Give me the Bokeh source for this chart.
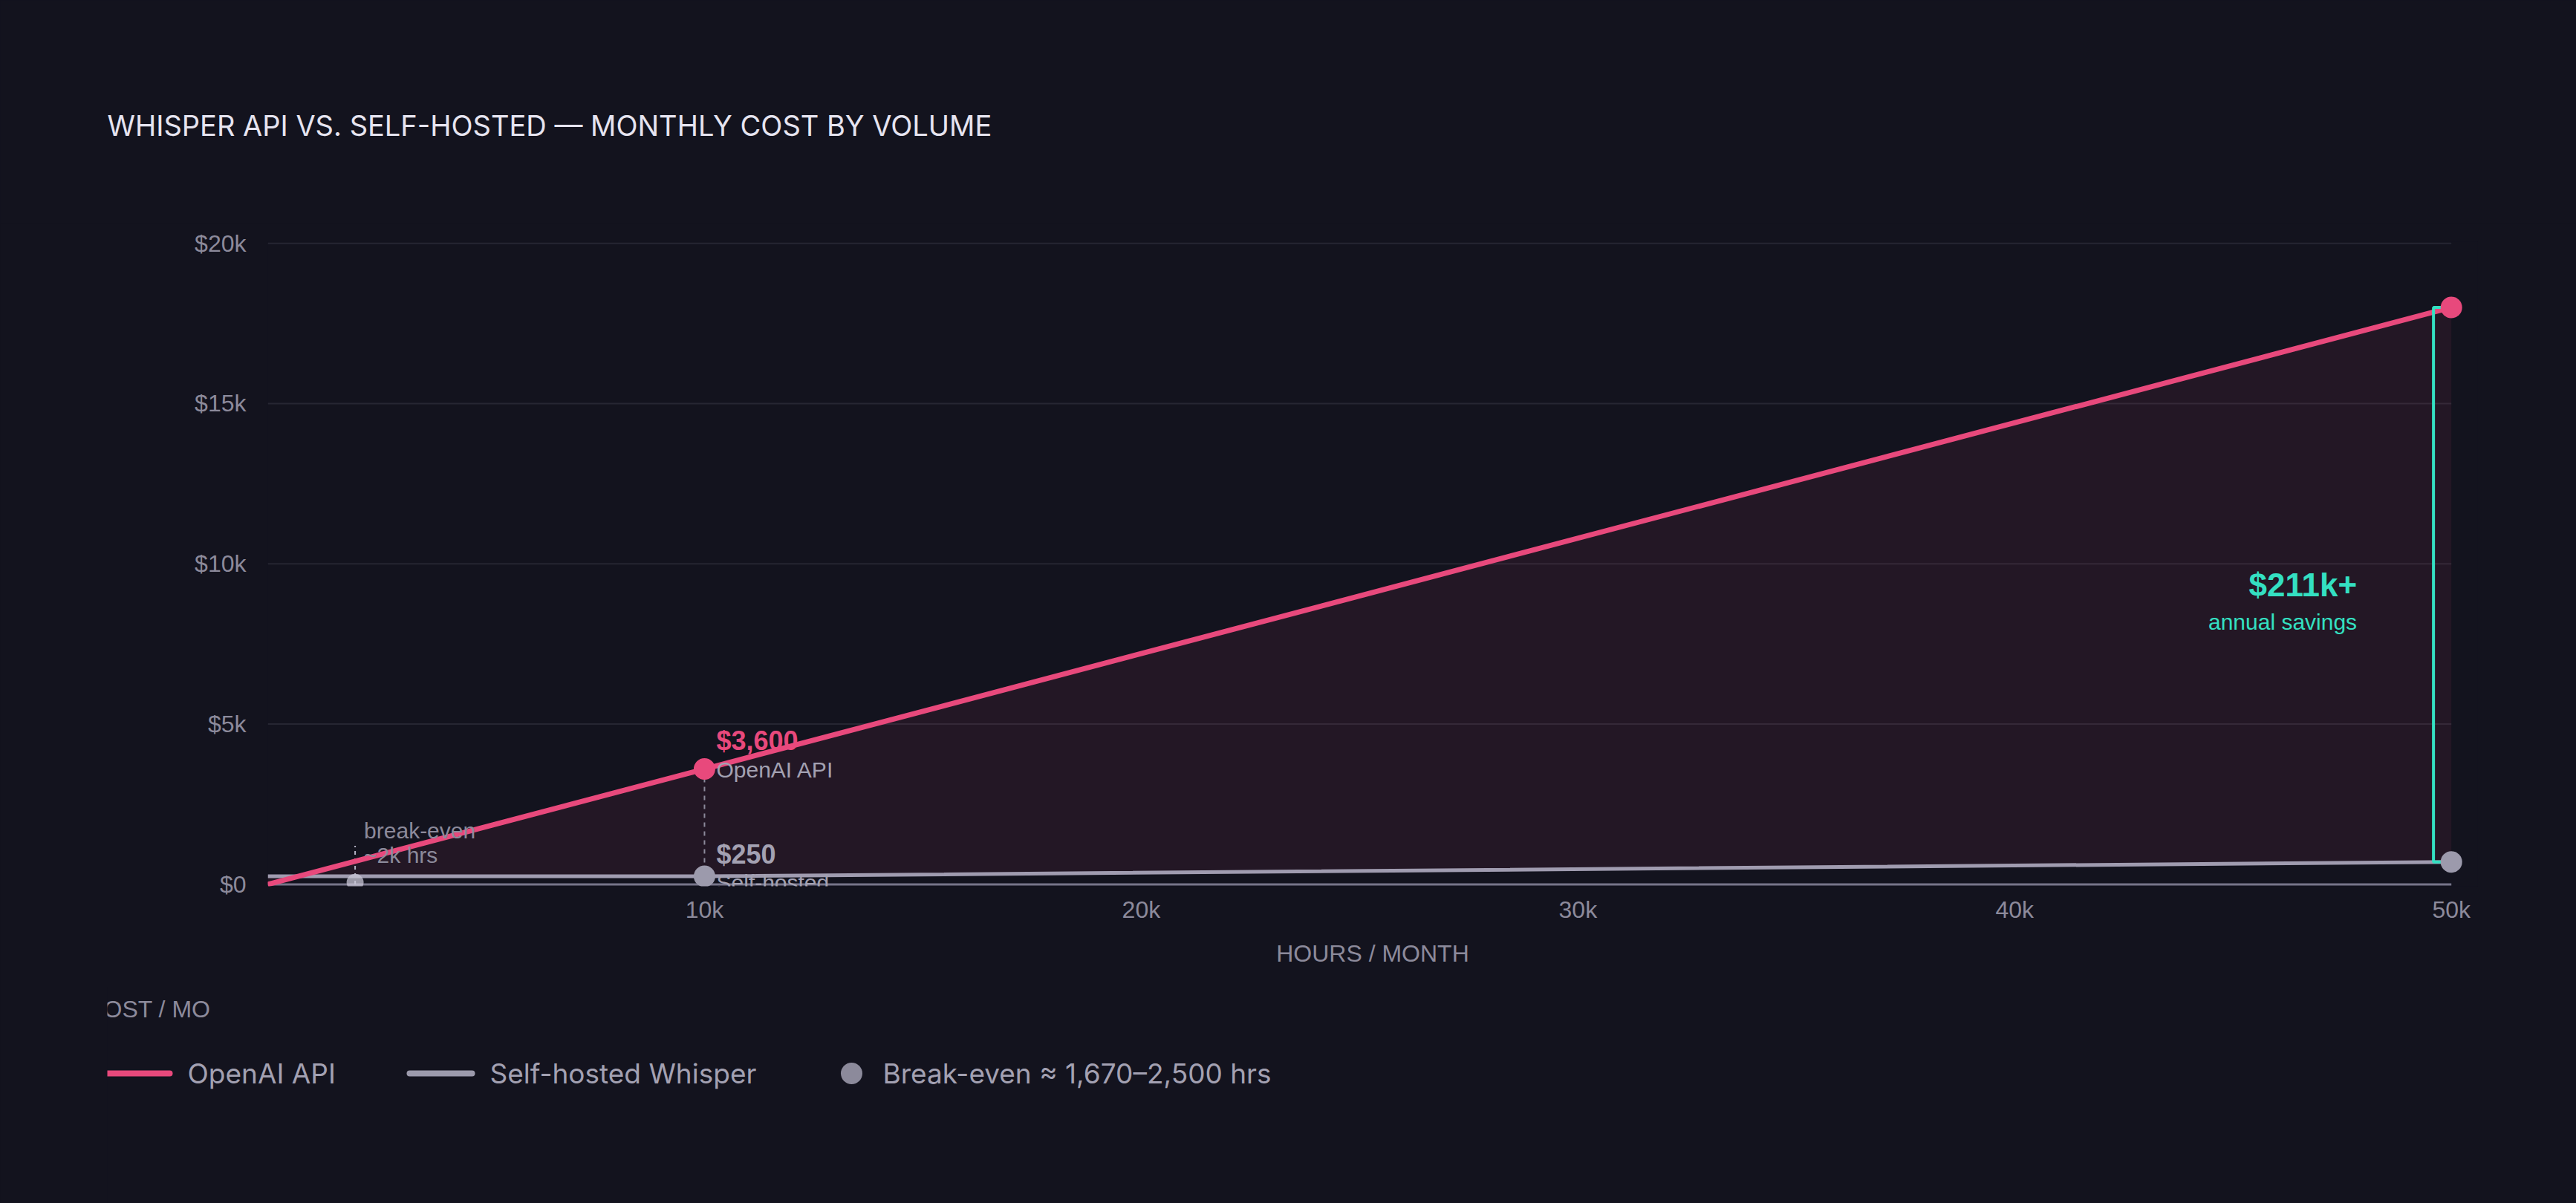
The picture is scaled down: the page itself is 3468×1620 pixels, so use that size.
from bokeh.plotting import figure
from bokeh.models import Range1d, FixedTicker, GlobalInlineStyleSheet
from bokeh.layouts import column
from bokeh.core.properties import value
from bokeh.embed import file_html
from bokeh.resources import INLINE

# data
hours = [0, 10000, 50000]
api_cost = [0, 3600, 18000]
self_cost = [250, 250, 700]
breakeven_hours = 2000
breakeven_cost = 60
breakeven_top = 1200

x_ticks = [10000, 20000, 30000, 40000, 50000]
x_tick_labels = ["10k", "20k", "30k", "40k", "50k"]
y_ticks = [0, 5000, 10000, 15000, 20000]
y_tick_labels = ["$0", "$5k", "$10k", "$15k", "$20k"]

api_label = ["$3,600", "OpenAI API"]
self_label = ["$250", "Self-hosted"]
breakeven_label = ["break-even", "~2k hrs"]
savings_label = ["$211k+", "annual savings"]
legend_names = ["OpenAI API", "Self-hosted Whisper", "Break-even ≈ 1,670–2,500 hrs"]

BG = "#13131e"
PINK = "#e8497c"
GREY = "#a09cb0"
DOT_GREY = "#9c9aac"
TEAL = "#34e0c2"
MUTED = "#8c8a9b"
SOFT = "#a3a1b2"
SANS = value("Liberation Sans")

W = 3468


def blank(height, left=0):
    f = figure(
        width=W, height=height,
        x_range=Range1d(0, W - left), y_range=Range1d(height, 0),
        x_axis_location=None, y_axis_location=None,
        output_backend="svg", toolbar_location=None, frame_align=False,
        min_border_left=left, min_border_right=0, min_border_top=0, min_border_bottom=0,
        background_fill_color=BG, border_fill_color=BG, outline_line_color=None,
    )
    f.grid.visible = False
    return f


# title strip
head = blank(300)
head.text(x=[144], y=[168], text=["WHISPER API VS. SELF-HOSTED — MONTHLY COST BY VOLUME"],
          text_font=value("Inter"), text_font_size="38px", text_color="#e6e4f0",
          text_baseline="middle")

# main chart; x runs a little past 50k so the end markers are not cut off
x_max = hours[-1]
p = figure(
    width=W, height=1030,
    x_range=Range1d(0, x_max + 600), y_range=Range1d(-60, y_ticks[-1] + 50),
    output_backend="svg", toolbar_location=None, frame_align=False,
    min_border_left=360, min_border_right=133, min_border_top=25, min_border_bottom=137,
    background_fill_color=BG, border_fill_color=BG, outline_line_color=None,
)

# grid and baseline stop at 50k like the reference
p.segment(x0=[0] * (len(y_ticks) - 1), y0=y_ticks[1:], x1=[x_max] * (len(y_ticks) - 1),
          y1=y_ticks[1:], line_color="#262632", line_width=2)

p.varea(x=hours, y1=self_cost, y2=api_cost, fill_color=PINK, fill_alpha=0.08)

p.segment(x0=[0], y0=[0], x1=[x_max], y1=[0], line_color="#77758a", line_width=3)

p.segment(x0=[hours[1]], y0=[api_cost[1]], x1=[hours[1]], y1=[self_cost[1]],
          line_color=MUTED, line_width=2, line_dash="6 6")
p.segment(x0=[breakeven_hours], y0=[0], x1=[breakeven_hours], y1=[breakeven_top],
          line_color="#b4b2c4", line_width=2, line_dash="5 5")

p.line(hours, self_cost, line_color=GREY, line_width=5)
p.line(hours, api_cost, line_color=PINK, line_width=7)

# savings bracket at the right edge
xb = x_max - 410
p.line(x=[x_max - 150, xb, xb, x_max - 150],
       y=[api_cost[-1], api_cost[-1], self_cost[-1], self_cost[-1]],
       line_color=TEAL, line_width=4)

p.scatter(x=[breakeven_hours], y=[breakeven_cost], size=23, fill_color="#c8c6d6",
          fill_alpha=0.75, line_color=None)
p.scatter(x=hours[1:], y=api_cost[1:], size=29, fill_color=PINK, line_color=None)
p.scatter(x=hours[1:], y=self_cost[1:], size=29, fill_color=DOT_GREY, line_color=None)

# point labels
p.text(x=[hours[1]], y=[api_cost[1]], text=[api_label[0]], x_offset=16, y_offset=-38,
       text_font=SANS, text_font_size="36px", text_font_style="bold",
       text_color=PINK, text_baseline="middle")
p.text(x=[hours[1]], y=[api_cost[1]], text=[api_label[1]], x_offset=16, y_offset=1,
       text_font=SANS, text_font_size="30px", text_color=SOFT, text_baseline="middle")
p.text(x=[hours[1]], y=[self_cost[1]], text=[self_label[0]], x_offset=16, y_offset=-30,
       text_font=SANS, text_font_size="36px", text_font_style="bold",
       text_color=SOFT, text_baseline="middle")
p.text(x=[hours[1]], y=[self_cost[1]], text=[self_label[1]], x_offset=16, y_offset=8,
       text_font=SANS, text_font_size="30px", text_color=SOFT, text_baseline="middle")
p.text(x=[breakeven_hours] * 2, y=[breakeven_cost] * 2, text=breakeven_label,
       x_offset=12, y_offset=[-70, -37],
       text_font=SANS, text_font_size="30px", text_color=MUTED, text_baseline="middle")

mid = (api_cost[-1] + self_cost[-1]) / 2
p.text(x=[xb], y=[mid], text=[savings_label[0]], x_offset=-103, y_offset=0,
       text_font=SANS, text_font_size="44px", text_font_style="bold",
       text_color=TEAL, text_align="right", text_baseline="middle")
p.text(x=[xb], y=[mid], text=[savings_label[1]], x_offset=-103, y_offset=50,
       text_font=SANS, text_font_size="30px",
       text_color=TEAL, text_align="right", text_baseline="middle")

p.grid.visible = False

p.xaxis.ticker = FixedTicker(ticks=x_ticks)
p.xaxis.major_label_overrides = dict(zip(x_ticks, x_tick_labels))
p.yaxis.ticker = FixedTicker(ticks=y_ticks)
p.yaxis.major_label_overrides = dict(zip(y_ticks, y_tick_labels))

p.axis.axis_line_color = None
p.axis.major_tick_line_color = None
p.axis.minor_tick_line_color = None
p.axis.major_label_text_font = "Liberation Sans"
p.axis.major_label_text_font_size = "32px"
p.axis.major_label_text_color = MUTED
p.xaxis.major_label_standoff = 7
p.yaxis.major_label_standoff = 23

p.xaxis.axis_label = "HOURS / MONTH"
p.xaxis.axis_label_text_font = "Liberation Sans"
p.xaxis.axis_label_text_font_size = "32px"
p.xaxis.axis_label_text_font_style = "normal"
p.xaxis.axis_label_text_color = MUTED
p.xaxis.axis_label_standoff = 20

# legend strip (clipped y-axis caption + legend row)
leg = blank(290, left=144)
leg.text(x=[139], y=[28], text=["COST / MO"], text_font=SANS, text_font_size="32px",
         text_color=MUTED, text_align="right", text_baseline="middle")

leg_y = 115
leg.segment(x0=[0, 407], y0=[leg_y, leg_y], x1=[84, 491], y1=[leg_y, leg_y],
            line_color=[PINK, DOT_GREY], line_width=8, line_cap="round")
leg.scatter(x=[1002], y=[leg_y], size=29, fill_color=MUTED, line_color=None)
leg.text(x=[108, 515, 1044], y=[leg_y] * 3, text=legend_names,
         text_font=value("Inter"), text_font_size="37px", text_color=SOFT,
         text_baseline="middle")

page = column(head, p, leg, spacing=0,
              stylesheets=[GlobalInlineStyleSheet(css="body { background: #13131e; }")])

open("out.html", "w").write(file_html(page, INLINE))
